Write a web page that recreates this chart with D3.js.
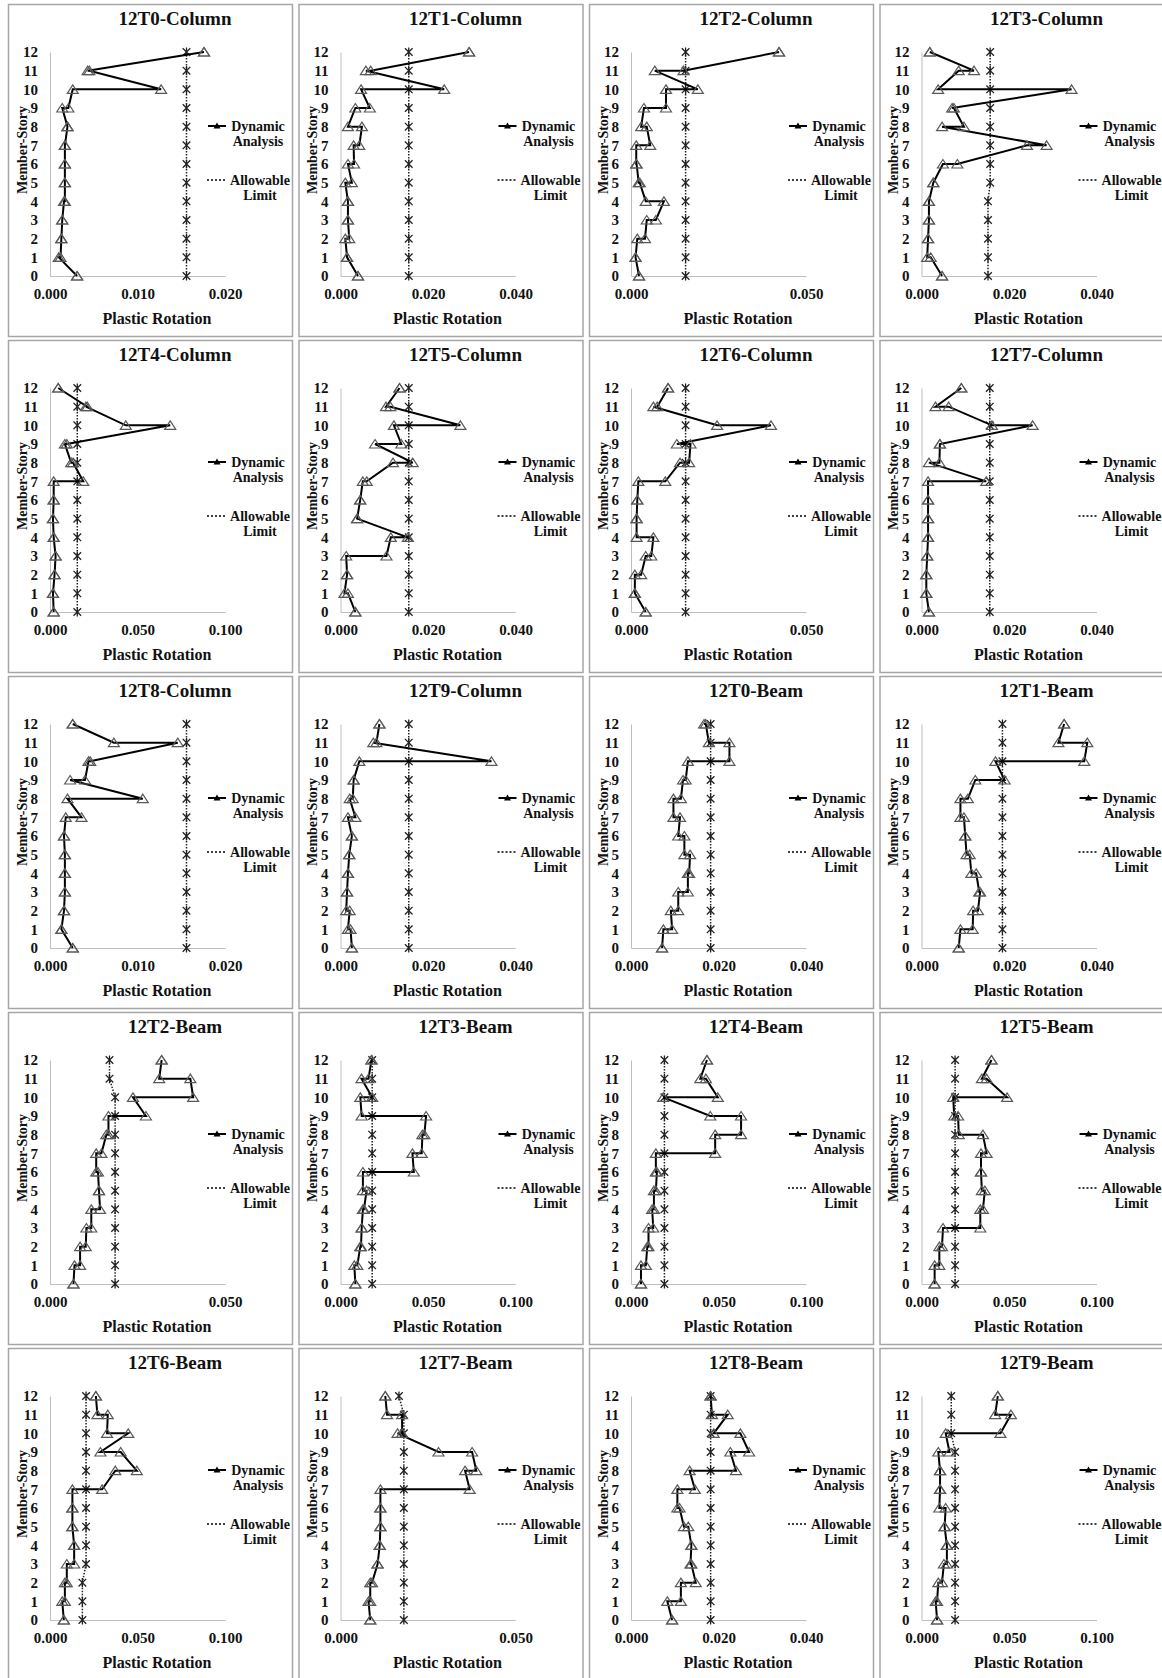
<!DOCTYPE html>
<html>
<head>
<meta charset="utf-8">
<script src="https://cdn.jsdelivr.net/npm/d3@7"></script>
<style>
  body { margin: 0; background: #fff; }
  svg { display: block; }
  text { font-family: "Liberation Serif", "Times New Roman", serif; font-weight: bold; fill: #111; }
</style>
</head>
<body>
<div id="chart"></div>
<script>
// panel titles, reading order (4 per row)
const titles = [
  "12T0-Column", "12T1-Column", "12T2-Column", "12T3-Column",
  "12T4-Column", "12T5-Column", "12T6-Column", "12T7-Column",
  "12T8-Column", "12T9-Column", "12T0-Beam", "12T1-Beam",
  "12T2-Beam", "12T3-Beam", "12T4-Beam", "12T5-Beam",
  "12T6-Beam", "12T7-Beam", "12T8-Beam", "12T9-Beam"
];
// x axis max and tick step of every panel
const xMax = [0.02, 0.04, 0.05, 0.04, 0.1, 0.04, 0.05, 0.04, 0.02, 0.04, 0.04, 0.04, 0.05, 0.1, 0.1, 0.1, 0.1, 0.05, 0.04, 0.1];
const xStep = [0.01, 0.02, 0.05, 0.02, 0.05, 0.02, 0.05, 0.02, 0.01, 0.02, 0.02, 0.02, 0.05, 0.05, 0.05, 0.05, 0.05, 0.05, 0.02, 0.05];
const storyTicks = [0, 1, 2, 3, 4, 5, 6, 7, 8, 9, 10, 11, 12];

// Dynamic analysis: two rotations per story, story 12 down to 0, in drawing order
const col12T0 = [[0.0176,0.0176],[0.0043,0.0045],[0.0127,0.0026],[0.0021,0.0014],[0.0020,0.0020],[0.0017,0.0017],[0.0017,0.0017],[0.0017,0.0017],[0.0017,0.0016],[0.0014,0.0014],[0.0013,0.0013],[0.0012,0.0010],[0.0031,0.0031]];
const col12T1 = [[0.0294,0.0294],[0.0069,0.0058],[0.0237,0.0047],[0.0067,0.0034],[0.0017,0.0049],[0.0043,0.0030],[0.0031,0.0017],[0.0026,0.0011],[0.0017,0.0017],[0.0017,0.0017],[0.0020,0.0011],[0.0015,0.0015],[0.0040,0.0040]];
const col12T2 = [[0.0423,0.0423],[0.0150,0.0068],[0.0191,0.0100],[0.0100,0.0037],[0.0029,0.0045],[0.0055,0.0015],[0.0015,0.0016],[0.0022,0.0025],[0.0042,0.0094],[0.0071,0.0045],[0.0040,0.0018],[0.0013,0.0013],[0.0023,0.0023]];
const col12T3 = [[0.0019,0.0019],[0.0120,0.0085],[0.0038,0.0343],[0.0070,0.0074],[0.0097,0.0047],[0.0286,0.0241],[0.0082,0.0049],[0.0027,0.0027],[0.0017,0.0017],[0.0017,0.0017],[0.0015,0.0015],[0.0013,0.0021],[0.0047,0.0047]];
const col12T4 = [[0.0047,0.0047],[0.0213,0.0205],[0.0433,0.0687],[0.0096,0.0085],[0.0121,0.0132],[0.0190,0.0021],[0.0021,0.0021],[0.0017,0.0017],[0.0021,0.0021],[0.0032,0.0032],[0.0026,0.0026],[0.0017,0.0017],[0.0021,0.0021]];
const col12T5 = [[0.0135,0.0135],[0.0104,0.0114],[0.0274,0.0122],[0.0139,0.0079],[0.0165,0.0120],[0.0060,0.0051],[0.0045,0.0045],[0.0038,0.0038],[0.0154,0.0115],[0.0105,0.0013],[0.0015,0.0015],[0.0009,0.0017],[0.0034,0.0034]];
const col12T6 = [[0.0106,0.0106],[0.0075,0.0064],[0.0246,0.0400],[0.0131,0.0170],[0.0166,0.0140],[0.0098,0.0021],[0.0018,0.0018],[0.0016,0.0016],[0.0016,0.0064],[0.0058,0.0042],[0.0029,0.0011],[0.0011,0.0011],[0.0042,0.0042]];
const col12T7 = [[0.0091,0.0091],[0.0032,0.0062],[0.0161,0.0254],[0.0042,0.0042],[0.0041,0.0017],[0.0148,0.0015],[0.0015,0.0015],[0.0015,0.0015],[0.0015,0.0015],[0.0013,0.0013],[0.0011,0.0011],[0.0011,0.0011],[0.0017,0.0017]];
const col12T8 = [[0.0026,0.0026],[0.0073,0.0146],[0.0046,0.0044],[0.0040,0.0023],[0.0106,0.0020],[0.0036,0.0018],[0.0016,0.0016],[0.0017,0.0017],[0.0017,0.0017],[0.0017,0.0017],[0.0016,0.0016],[0.0013,0.0013],[0.0026,0.0026]];
const col12T9 = [[0.0089,0.0089],[0.0082,0.0075],[0.0345,0.0043],[0.0030,0.0030],[0.0028,0.0021],[0.0034,0.0017],[0.0026,0.0026],[0.0020,0.0020],[0.0017,0.0017],[0.0015,0.0015],[0.0013,0.0021],[0.0017,0.0023],[0.0026,0.0026]];
const beam12T0 = [[0.0167,0.0171],[0.0178,0.0225],[0.0225,0.0130],[0.0125,0.0119],[0.0114,0.0097],[0.0097,0.0112],[0.0108,0.0122],[0.0122,0.0135],[0.0133,0.0130],[0.0130,0.0108],[0.0108,0.0091],[0.0094,0.0074],[0.0071,0.0071]];
const beam12T1 = [[0.0326,0.0326],[0.0313,0.0379],[0.0372,0.0169],[0.0190,0.0123],[0.0106,0.0089],[0.0089,0.0097],[0.0100,0.0100],[0.0103,0.0110],[0.0114,0.0125],[0.0132,0.0134],[0.0129,0.0118],[0.0117,0.0089],[0.0085,0.0085]];
const beam12T2 = [[0.0319,0.0319],[0.0312,0.0401],[0.0409,0.0237],[0.0274,0.0167],[0.0167,0.0161],[0.0147,0.0132],[0.0132,0.0137],[0.0140,0.0140],[0.0143,0.0118],[0.0118,0.0104],[0.0102,0.0086],[0.0086,0.0070],[0.0067,0.0067]];
const beam12T3 = [[0.0177,0.0177],[0.0160,0.0120],[0.0181,0.0113],[0.0121,0.0489],[0.0479,0.0468],[0.0464,0.0411],[0.0419,0.0128],[0.0128,0.0149],[0.0134,0.0128],[0.0121,0.0121],[0.0117,0.0113],[0.0096,0.0079],[0.0085,0.0085]];
const beam12T4 = [[0.0434,0.0434],[0.0396,0.0428],[0.0496,0.0184],[0.0453,0.0629],[0.0629,0.0481],[0.0481,0.0142],[0.0142,0.0148],[0.0142,0.0131],[0.0131,0.0121],[0.0127,0.0100],[0.0100,0.0093],[0.0085,0.0057],[0.0057,0.0057]];
const beam12T5 = [[0.0400,0.0400],[0.0345,0.0372],[0.0489,0.0181],[0.0187,0.0209],[0.0213,0.0351],[0.0372,0.0340],[0.0340,0.0340],[0.0345,0.0362],[0.0351,0.0336],[0.0336,0.0123],[0.0117,0.0102],[0.0102,0.0075],[0.0075,0.0075]];
const beam12T6 = [[0.0262,0.0262],[0.0271,0.0330],[0.0326,0.0447],[0.0288,0.0404],[0.0496,0.0373],[0.0298,0.0128],[0.0128,0.0128],[0.0128,0.0128],[0.0138,0.0138],[0.0138,0.0096],[0.0096,0.0085],[0.0085,0.0070],[0.0079,0.0079]];
const beam12T7 = [[0.0128,0.0128],[0.0133,0.0176],[0.0176,0.0163],[0.0280,0.0376],[0.0388,0.0356],[0.0369,0.0114],[0.0114,0.0114],[0.0114,0.0114],[0.0112,0.0112],[0.0106,0.0106],[0.0090,0.0085],[0.0085,0.0080],[0.0085,0.0085]];
const beam12T8 = [[0.0182,0.0182],[0.0185,0.0221],[0.0189,0.0250],[0.0270,0.0227],[0.0240,0.0134],[0.0146,0.0106],[0.0106,0.0111],[0.0121,0.0131],[0.0138,0.0138],[0.0136,0.0138],[0.0148,0.0114],[0.0114,0.0083],[0.0094,0.0094]];
const beam12T9 = [[0.0436,0.0436],[0.0421,0.0511],[0.0451,0.0138],[0.0160,0.0096],[0.0106,0.0106],[0.0106,0.0106],[0.0102,0.0138],[0.0132,0.0132],[0.0145,0.0145],[0.0145,0.0128],[0.0117,0.0096],[0.0089,0.0081],[0.0089,0.0089]];

// Allowable limit per story, story 12 down to 0
const limCol  = [0.0156,0.0156,0.0156,0.0156,0.0156,0.0156,0.0156,0.0156,0.0156,0.0156,0.0156,0.0156,0.0156];
const lim12T3C = [0.0157,0.0157,0.0157,0.0157,0.0157,0.0157,0.0157,0.0157,0.0152,0.0152,0.0152,0.0152,0.0152];
const lim12T0B = [0.0182,0.0182,0.0182,0.0182,0.0182,0.0182,0.0182,0.0182,0.0182,0.0182,0.0182,0.0182,0.0182];
const lim12T1B = [0.0185,0.0185,0.0185,0.0185,0.0185,0.0185,0.0185,0.0185,0.0185,0.0185,0.0185,0.0185,0.0185];
const lim12T2B = [0.0170,0.0170,0.0186,0.0186,0.0186,0.0186,0.0186,0.0186,0.0186,0.0186,0.0186,0.0186,0.0186];
const lim12T3B = [0.0181,0.0181,0.0181,0.0181,0.0181,0.0181,0.0181,0.0181,0.0181,0.0181,0.0181,0.0181,0.0181];
const lim12T4B = [0.0191,0.0191,0.0191,0.0191,0.0191,0.0191,0.0191,0.0191,0.0191,0.0191,0.0191,0.0191,0.0191];
const lim12T5B = [0.0192,0.0192,0.0192,0.0192,0.0192,0.0192,0.0192,0.0192,0.0192,0.0192,0.0192,0.0192,0.0192];
const lim12T6B = [0.0206,0.0206,0.0206,0.0206,0.0206,0.0206,0.0206,0.0206,0.0206,0.0206,0.0185,0.0185,0.0185];
const lim12T7B = [0.0167,0.0181,0.0181,0.0181,0.0181,0.0181,0.0181,0.0181,0.0181,0.0181,0.0181,0.0181,0.0181];
const lim12T8B = [0.0182,0.0182,0.0182,0.0182,0.0182,0.0182,0.0182,0.0182,0.0182,0.0182,0.0182,0.0182,0.0182];
const lim12T9B = [0.0170,0.0170,0.0170,0.0192,0.0192,0.0192,0.0192,0.0192,0.0192,0.0192,0.0192,0.0192,0.0192];

const dynamic = [col12T0, col12T1, col12T2, col12T3, col12T4, col12T5, col12T6, col12T7, col12T8, col12T9,
  beam12T0, beam12T1, beam12T2, beam12T3, beam12T4, beam12T5, beam12T6, beam12T7, beam12T8, beam12T9];
const allowable = [limCol, limCol, limCol, lim12T3C, limCol, limCol, limCol, limCol, limCol, limCol,
  lim12T0B, lim12T1B, lim12T2B, lim12T3B, lim12T4B, lim12T5B, lim12T6B, lim12T7B, lim12T8B, lim12T9B];

const W = 1162, H = 1678;
const panelW = 284, panelH = 332;

const svg = d3.select("#chart").append("svg")
  .attr("width", W).attr("height", H);

// marker shapes
const triPath = "M0,-4.5L5.5,4L-5.5,4Z";
const starPath = "M-3.8,-3.8L3.8,3.8M-3.8,3.8L3.8,-3.8M0,-4.6L0,4.6";

titles.forEach((title, i) => {
  const col = i % 4, row = Math.floor(i / 4);
  const g = svg.append("g")
    .attr("transform", `translate(${8 + col * 290.5},${4 + row * 336})`);

  // panel frame
  g.append("rect")
    .attr("x", 0.5).attr("y", 0.5)
    .attr("width", panelW).attr("height", panelH)
    .attr("fill", "none").attr("stroke", "#a6a6a6").attr("stroke-width", 1.5);

  const x = d3.scaleLinear().domain([0, xMax[i]]).range([42, 217]);
  const y = d3.scaleLinear().domain([0, 12]).range([272, 48]);

  // axes
  const yAxis = g.append("g").attr("transform", "translate(42,0)")
    .call(d3.axisLeft(y).tickValues(storyTicks).tickSize(0).tickPadding(12).tickFormat(d3.format("d")));
  const xTicks = d3.range(0, xMax[i] + 1e-9, xStep[i]);
  const xAxis = g.append("g").attr("transform", "translate(0,272)")
    .call(d3.axisBottom(x).tickValues(xTicks).tickSize(0).tickPadding(12).tickFormat(d3.format(".3f")));
  [yAxis, xAxis].forEach(a => {
    a.select(".domain").attr("stroke", "#bfbfbf").attr("stroke-width", 1);
    a.selectAll("text").attr("font-size", 15).attr("fill", "#111");
  });

  // allowable limit
  const limPts = allowable[i].map((v, k) => [v, 12 - k]);
  g.append("path")
    .attr("d", d3.line().x(d => x(d[0])).y(d => y(d[1]))(limPts))
    .attr("fill", "none").attr("stroke", "#222").attr("stroke-width", 1.5)
    .attr("stroke-dasharray", "1.5,1.5");
  g.selectAll(".star").data(limPts).join("path")
    .attr("class", "star")
    .attr("transform", d => `translate(${x(d[0])},${y(d[1])})`)
    .attr("d", starPath)
    .attr("fill", "none").attr("stroke", "#222").attr("stroke-width", 1.3);

  // dynamic analysis
  const dynPts = [];
  dynamic[i].forEach((pair, k) => {
    dynPts.push([pair[0], 12 - k]);
    dynPts.push([pair[1], 12 - k]);
  });
  g.append("path")
    .attr("d", d3.line().x(d => x(d[0])).y(d => y(d[1]))(dynPts))
    .attr("fill", "none").attr("stroke", "#000").attr("stroke-width", 2);
  g.selectAll(".tri").data(dynPts).join("path")
    .attr("class", "tri")
    .attr("transform", d => `translate(${x(d[0])},${y(d[1])})`)
    .attr("d", triPath)
    .attr("fill", "none").attr("stroke", "#595959").attr("stroke-width", 1.2);

  // titles
  g.append("text").attr("x", 167).attr("y", 21)
    .attr("text-anchor", "middle").attr("font-size", 19).text(title);
  g.append("text").attr("x", 149).attr("y", 320)
    .attr("text-anchor", "middle").attr("font-size", 16).text("Plastic Rotation");
  g.append("text").attr("transform", "translate(14,146) rotate(-90)")
    .attr("text-anchor", "middle").attr("dy", "0.35em").attr("font-size", 14).text("Member-Story");

  // legend
  const lg = g.append("g");
  lg.append("line").attr("x1", 200).attr("x2", 218).attr("y1", 122).attr("y2", 122)
    .attr("stroke", "#000").attr("stroke-width", 2);
  lg.append("path").attr("transform", "translate(209,122)").attr("d", "M0,-3.5L3.5,2.5L-3.5,2.5Z").attr("fill", "#000");
  lg.append("text").attr("x", 250).attr("y", 127).attr("text-anchor", "middle").attr("font-size", 14).text("Dynamic");
  lg.append("text").attr("x", 250).attr("y", 142).attr("text-anchor", "middle").attr("font-size", 14).text("Analysis");
  lg.append("line").attr("x1", 199).attr("x2", 218).attr("y1", 176).attr("y2", 176)
    .attr("stroke", "#000").attr("stroke-width", 1.6).attr("stroke-dasharray", "2,2");
  lg.append("text").attr("x", 252).attr("y", 181).attr("text-anchor", "middle").attr("font-size", 14).text("Allowable");
  lg.append("text").attr("x", 252).attr("y", 196).attr("text-anchor", "middle").attr("font-size", 14).text("Limit");
});
</script>
</body>
</html>
